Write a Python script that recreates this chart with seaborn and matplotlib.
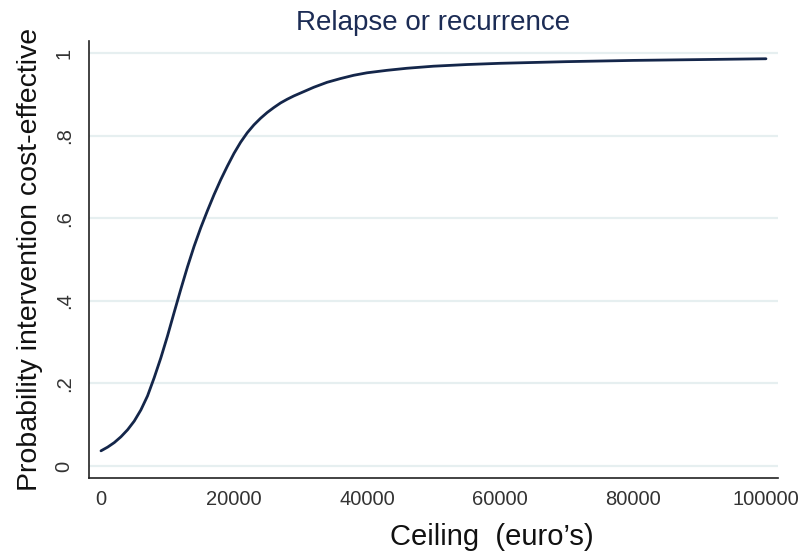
import matplotlib
matplotlib.use("Agg")
import matplotlib.pyplot as plt
import seaborn as sns
import pandas as pd

ceiling = [0, 1000, 2000, 3000, 4000, 5000, 6000, 7000, 8000, 9000, 10000,
           11000, 12000, 13000, 14000, 15000, 16000, 17000, 18000, 19000, 20000,
           21000, 22000, 23000, 24000, 25000, 26000, 27000, 28000, 29000, 30000,
           32000, 34000, 36000, 38000, 40000, 43000, 46000, 50000, 55000, 60000,
           70000, 80000, 90000, 100000]
probability = [0.037, 0.046, 0.057, 0.071, 0.088, 0.109, 0.136, 0.170, 0.214, 0.262, 0.315,
               0.372, 0.428, 0.482, 0.532, 0.577, 0.618, 0.657, 0.693, 0.726, 0.757,
               0.784, 0.807, 0.826, 0.842, 0.856, 0.868, 0.879, 0.888, 0.896, 0.903,
               0.917, 0.929, 0.938, 0.946, 0.952, 0.958, 0.963, 0.968, 0.972, 0.975,
               0.979, 0.982, 0.984, 0.986]
x_ticks = [0, 20000, 40000, 60000, 80000, 100000]
y_ticks = [0, 0.2, 0.4, 0.6, 0.8, 1.0]
y_tick_labels = ["0", ".2", ".4", ".6", ".8", "1"]

df = pd.DataFrame({"ceiling": ceiling, "probability": probability})

sns.set_theme(style="white")
plt.rcParams["font.family"] = ["Liberation Sans", "DejaVu Sans"]

fig = plt.figure(figsize=(8.02, 5.54), dpi=100)
ax = fig.add_axes([0.111, 0.137, 0.859, 0.789])

for yv in y_ticks:
    ax.axhline(yv, color="#e6eff0", lw=1.6, zorder=0)

sns.lineplot(data=df, x="ceiling", y="probability", ax=ax, color="#14264a", lw=2.0)

ax.set_xlim(-1800, 101800)
ax.set_ylim(-0.029, 1.029)
ax.set_xticks(x_ticks)
ax.set_xticklabels([str(v) for v in x_ticks])
ax.set_yticks(y_ticks)
ax.set_yticklabels(y_tick_labels, rotation=90, va="center")

for s in ["top", "right"]:
    ax.spines[s].set_visible(False)
for s in ["left", "bottom"]:
    ax.spines[s].set_color("#222222")
    ax.spines[s].set_linewidth(1.2)

ax.tick_params(axis="both", direction="out", length=5, width=1.2, color="#222222",
               labelsize=14.5, labelcolor="#333333")
ax.tick_params(axis="x", pad=3.5)
ax.tick_params(axis="y", pad=6)

ax.set_xlabel("Ceiling  (euro\u2019s)", fontsize=21, color="#111111", va="baseline")
ax.xaxis.set_label_coords(0.585, -0.153)
ax.set_ylabel("Probability intervention cost-effective", fontsize=20.5, color="#111111", va="center")
ax.yaxis.set_label_coords(-0.0856, 0.5)
ax.set_title("Relapse or recurrence", fontsize=20, color="#1c2c55", pad=8)

fig.savefig("out.png", dpi=100)
